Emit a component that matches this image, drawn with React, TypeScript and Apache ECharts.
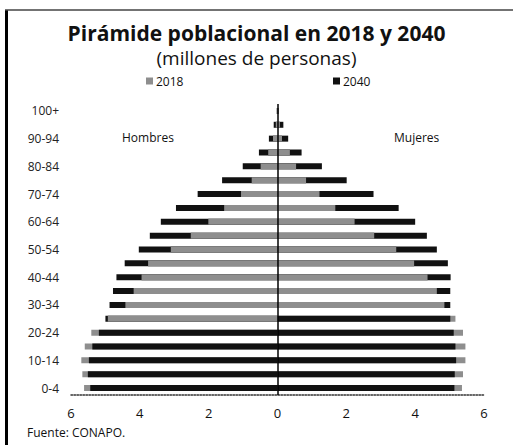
import React, { useEffect, useRef } from 'react';
import * as echarts from 'echarts';

const ageGroups = ['0-4', '5-9', '10-14', '15-19', '20-24', '25-29', '30-34', '35-39', '40-44', '45-49', '50-54', '55-59', '60-64', '65-69', '70-74', '75-79', '80-84', '85-89', '90-94', '95-99', '100+'];
const men2018 = [5.62, 5.67, 5.70, 5.60, 5.41, 4.93, 4.42, 4.18, 3.95, 3.76, 3.10, 2.52, 2.01, 1.55, 1.06, 0.75, 0.49, 0.27, 0.13, 0.05, 0.02];
const men2040 = [5.44, 5.51, 5.48, 5.38, 5.19, 5.00, 4.88, 4.78, 4.68, 4.44, 4.03, 3.71, 3.39, 2.95, 2.32, 1.61, 1.01, 0.54, 0.25, 0.11, 0.02];
const women2018 = [5.36, 5.39, 5.46, 5.46, 5.39, 5.17, 4.85, 4.63, 4.36, 3.97, 3.45, 2.81, 2.24, 1.68, 1.22, 0.83, 0.54, 0.36, 0.13, 0.07, 0.02];
const women2040 = [5.14, 5.15, 5.19, 5.17, 5.12, 5.02, 5.02, 5.02, 5.03, 4.95, 4.63, 4.34, 4.00, 3.52, 2.79, 2.01, 1.29, 0.70, 0.31, 0.17, 0.03];
const xMin = -6;
const xMax = 6;
const xStep = 2;

const GRAY = '#8e8e8e';
const BLACK = '#111111';
const FONT = 'Open Sans';

export default function App() {
  const ref = useRef<HTMLDivElement>(null);
  useEffect(() => {
    if (!ref.current) return;
    const chart = echarts.init(ref.current, undefined, { renderer: 'svg' });
    const neg = (a: number[]) => a.map((v) => -v);
    const menFront = men2018.map((v, i) => (v < men2040[i] ? -v : '-'));
    const womenFront = women2018.map((v, i) => (v < women2040[i] ? v : '-'));
    const base = {
      type: 'bar' as const,
      barWidth: 6,
      barGap: '-100%',
      silent: true,
    };
    chart.setOption({
      animation: false,
      backgroundColor: '#ffffff',
      title: [
        {
          text: 'Pirámide poblacional en 2018 y 2040',
          left: 'center',
          top: 22,
          padding: 0,
          textStyle: { fontFamily: FONT, fontSize: 21, lineHeight: 21, fontWeight: 'bold', color: '#111' },
        },
        {
          text: '(millones de personas)',
          left: 'center',
          top: 48,
          padding: 0,
          textStyle: { fontFamily: FONT, fontSize: 19, lineHeight: 19, fontWeight: 'normal', color: '#111' },
        },
      ],
      legend: [
        {
          data: ['2018'],
          left: 141,
          top: 70,
          icon: 'rect',
          itemWidth: 7,
          itemHeight: 7,
          selectedMode: false,
          textStyle: { fontFamily: FONT, fontSize: 12, color: '#111', padding: [0, 0, 0, -2] },
        },
        {
          data: ['2040'],
          left: 328,
          top: 70,
          icon: 'rect',
          itemWidth: 7,
          itemHeight: 7,
          selectedMode: false,
          textStyle: { fontFamily: FONT, fontSize: 12, color: '#111', padding: [0, 0, 0, -2] },
        },
      ],
      grid: { left: 71, right: 29, top: 104, bottom: 50, containLabel: false },
      xAxis: {
        type: 'value',
        min: xMin,
        max: xMax,
        interval: xStep,
        axisLine: { show: true, onZero: false, lineStyle: { color: '#333', type: 'dotted', width: 1.5 } },
        axisTick: { show: false },
        splitLine: { show: false },
        axisLabel: {
          margin: 11,
          fontFamily: FONT,
          fontSize: 13,
          color: '#111',
          formatter: (v: number) => String(Math.abs(v)),
        },
      },
      yAxis: {
        type: 'category',
        data: ageGroups,
        axisLine: { show: false },
        axisTick: { show: false },
        axisLabel: { interval: 1, margin: 12, fontFamily: FONT, fontSize: 12, color: '#222' },
      },
      series: [
        {
          ...base,
          name: '2018',
          data: neg(men2018),
          itemStyle: { color: GRAY },
          markLine: {
            silent: true,
            symbol: 'none',
            label: { show: false },
            lineStyle: { color: '#000', width: 1.5, type: 'solid' },
            data: [{ xAxis: 0 }],
          },
        },
        { ...base, name: '2018', data: women2018, itemStyle: { color: GRAY } },
        { ...base, name: '2040', data: neg(men2040), itemStyle: { color: BLACK } },
        { ...base, name: '2040', data: women2040, itemStyle: { color: BLACK } },
        { ...base, name: '2018', data: menFront, itemStyle: { color: GRAY } },
        { ...base, name: '2018', data: womenFront, itemStyle: { color: GRAY } },
      ],
      graphic: [
        { type: 'rect', left: 5, top: 10, shape: { width: 3, height: 435 }, style: { fill: '#000' } },
        { type: 'line', shape: { x1: 5, y1: 10, x2: 513, y2: 10 }, style: { stroke: '#444', lineWidth: 1.5 } },
        { type: 'text', left: 122, top: 131, style: { text: 'Hombres', font: `12px "${FONT}"`, fill: '#111' } },
        { type: 'text', left: 394, top: 131, style: { text: 'Mujeres', font: `12px "${FONT}"`, fill: '#111' } },
        { type: 'text', left: 27, top: 426, style: { text: 'Fuente: CONAPO.', font: `12px "${FONT}"`, fill: '#111' } },
      ],
    });
    return () => chart.dispose();
  }, []);
  return <div ref={ref} style={{ position: 'fixed', left: 0, top: 0, width: 513, height: 445 }} />;
}
